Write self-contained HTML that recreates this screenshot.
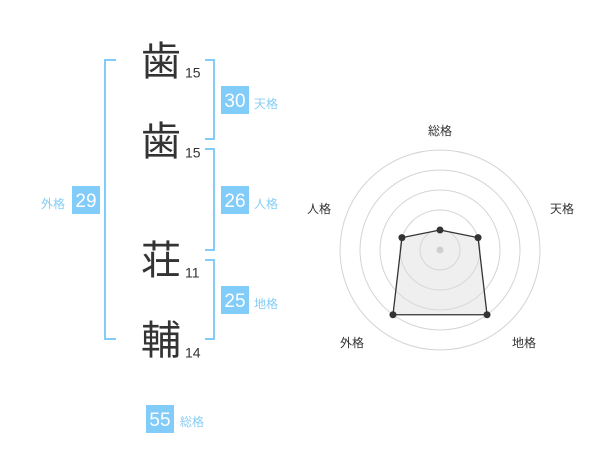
<!DOCTYPE html>
<html>
<head>
<meta charset="utf-8">
<style>
html,body{margin:0;padding:0;background:#fff;}
svg{display:block;}
.k{font-family:"Liberation Sans","Noto Sans CJK JP",sans-serif;font-size:40px;fill:#333;}
.n{font-family:"Liberation Sans",sans-serif;font-size:14px;fill:#333;}
.b{font-family:"Liberation Sans",sans-serif;font-size:19px;fill:#fff;}
.l{font-family:"Liberation Sans","Noto Sans CJK JP",sans-serif;font-size:12px;fill:#86cdf5;}
.r{font-family:"Liberation Sans","Noto Sans CJK JP",sans-serif;font-size:12px;fill:#333;}
</style>
</head>
<body>
<svg width="600" height="470" viewBox="0 0 600 470" xmlns="http://www.w3.org/2000/svg">
  <!-- brackets -->
  <g fill="none" stroke="#81ccf8" stroke-width="2">
    <polyline points="116,60 105,60 105,339 116,339"/>
    <polyline points="205,60 214,60 214,139 205,139"/>
    <polyline points="205,149 214,149 214,250 205,250"/>
    <polyline points="205,260 214,260 214,339 205,339"/>
  </g>

  <!-- kanji -->
  <text class="k" x="161" y="75" text-anchor="middle">歯</text>
  <text class="k" x="161" y="155" text-anchor="middle">歯</text>
  <text class="k" x="161" y="274" text-anchor="middle">荘</text>
  <text class="k" x="161" y="354" text-anchor="middle">輔</text>

  <text class="n" x="185" y="77.5">15</text>
  <text class="n" x="185" y="157.5">15</text>
  <text class="n" x="185" y="277.5">11</text>
  <text class="n" x="185" y="357.5">14</text>

  <!-- boxes -->
  <g fill="#81ccf8">
    <rect x="221" y="86" width="28" height="28"/>
    <rect x="221" y="186" width="28" height="28"/>
    <rect x="221" y="286" width="28" height="28"/>
    <rect x="72" y="186" width="28" height="28"/>
    <rect x="146" y="405" width="28" height="28"/>
  </g>
  <text class="b" x="235" y="107" text-anchor="middle">30</text>
  <text class="b" x="235" y="207" text-anchor="middle">26</text>
  <text class="b" x="235" y="307" text-anchor="middle">25</text>
  <text class="b" x="86" y="207" text-anchor="middle">29</text>
  <text class="b" x="160" y="426" text-anchor="middle">55</text>

  <text class="l" x="254" y="108">天格</text>
  <text class="l" x="254" y="208">人格</text>
  <text class="l" x="254" y="308">地格</text>
  <text class="l" x="41" y="208">外格</text>
  <text class="l" x="180" y="426">総格</text>

  <!-- radar -->
  <g fill="none" stroke="#d4d4d4" stroke-width="1">
    <circle cx="440" cy="250" r="20"/>
    <circle cx="440" cy="250" r="40"/>
    <circle cx="440" cy="250" r="60"/>
    <circle cx="440" cy="250" r="80"/>
    <circle cx="440" cy="250" r="100"/>
  </g>
  <polygon points="440,230 478.04,237.64 487.02,314.72 392.98,314.72 401.96,237.64" fill="rgba(220,220,220,0.45)" stroke="#333" stroke-width="1.3"/>
  <circle cx="440" cy="250" r="3.5" fill="#cfcfcf"/>
  <g fill="#333">
    <circle cx="440" cy="230" r="3.5"/>
    <circle cx="478.04" cy="237.64" r="3.5"/>
    <circle cx="487.02" cy="314.72" r="3.5"/>
    <circle cx="392.98" cy="314.72" r="3.5"/>
    <circle cx="401.96" cy="237.64" r="3.5"/>
  </g>
  <text class="r" x="440" y="135" text-anchor="middle">総格</text>
  <text class="r" x="550" y="213">天格</text>
  <text class="r" x="307" y="213">人格</text>
  <text class="r" x="340" y="347">外格</text>
  <text class="r" x="512" y="347">地格</text>
</svg>
</body>
</html>
